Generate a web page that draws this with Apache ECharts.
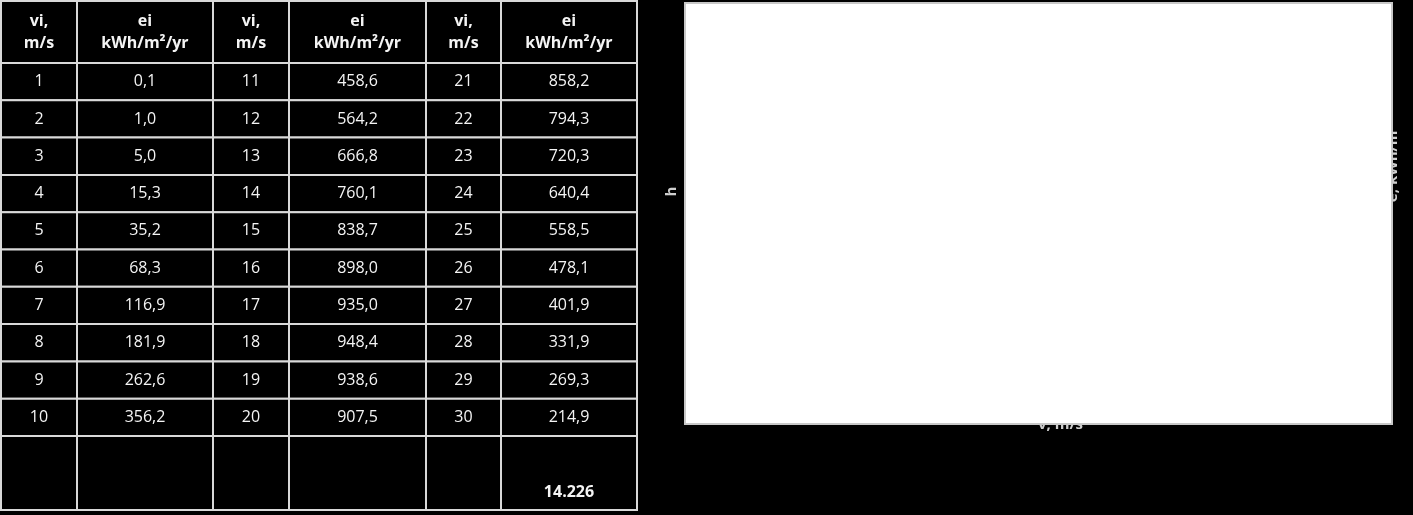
<!DOCTYPE html>
<html>
<head>
<meta charset="utf-8">
<title>Wind energy by speed bin</title>
<script src="https://cdn.jsdelivr.net/npm/echarts@6/dist/echarts.min.js"></script>
<style>
  html, body { margin: 0; padding: 0; background: #000; }
  #main { width: 1413px; height: 515px; }
</style>
</head>
<body>
<div id="main"></div>
<script>
// wind speed bins, m/s
const speeds = [1, 2, 3, 4, 5, 6, 7, 8, 9, 10,
                11, 12, 13, 14, 15, 16, 17, 18, 19, 20,
                21, 22, 23, 24, 25, 26, 27, 28, 29, 30];
// energy per bin, kWh/m2/yr
const energy = [0.1, 1.0, 5.0, 15.3, 35.2, 68.3, 116.9, 181.9, 262.6, 356.2,
                458.6, 564.2, 666.8, 760.1, 838.7, 898.0, 935.0, 948.4, 938.6, 907.5,
                858.2, 794.3, 720.3, 640.4, 558.5, 478.1, 401.9, 331.9, 269.3, 214.9];
const totalLabel = '14.226';
const headSpeed = 'vi,\nm/s';
const headEnergy = 'ei\nkWh/m²/yr';

// table layout, in table-axis units (= px)
const colEdges = [0, 76, 212, 288, 425, 500, 636];
const rowEdges = [0, 62, 99.3, 136.6, 173.9, 211.2, 248.5, 285.8, 323.1, 360.4, 397.7, 435, 509];

const fmt = v => v.toFixed(1).replace('.', ',');

// one entry per cell: col, row, text, kind
const cells = [];
for (let b = 0; b < 3; b++) {
  cells.push([b * 2, 0, headSpeed, 'head']);
  cells.push([b * 2 + 1, 0, headEnergy, 'head']);
  for (let i = 0; i < 10; i++) {
    const k = b * 10 + i;
    cells.push([b * 2, i + 1, String(speeds[k]), 'body']);
    cells.push([b * 2 + 1, i + 1, fmt(energy[k]), 'body']);
  }
  cells.push([b * 2, 11, '', 'foot']);
  cells.push([b * 2 + 1, 11, b === 2 ? totalLabel : '', 'foot']);
}

const chart = echarts.init(document.getElementById('main'));

function renderCell(params, api) {
  const cell = cells[params.dataIndex];
  const c = api.value(0), r = api.value(1);
  const p0 = api.coord([colEdges[c], rowEdges[r]]);
  const p1 = api.coord([colEdges[c + 1], rowEdges[r + 1]]);
  const kind = cell[3];
  const ty = kind === 'foot' ? p1[1] - 18 : (p0[1] + p1[1]) / 2;
  return {
    type: 'group',
    children: [
      {
        type: 'rect',
        shape: { x: p0[0], y: p0[1], width: p1[0] - p0[0], height: p1[1] - p0[1] },
        style: { fill: '#000', stroke: '#d9d9d9', lineWidth: 2 }
      },
      {
        type: 'text',
        z2: 10,
        style: {
          text: cell[2],
          x: (p0[0] + p1[0]) / 2,
          y: ty,
          align: 'center',
          verticalAlign: 'middle',
          fill: '#f4f4f4',
          fontFamily: 'Open Sans',
          fontSize: 16,
          fontWeight: kind === 'body' ? 'normal' : 'bold',
          lineHeight: 22
        }
      }
    ]
  };
}

const nameStyle = {
  color: '#cfcfcf',
  fontFamily: 'Open Sans',
  fontSize: 15,
  fontWeight: 'bold',
  verticalAlign: 'middle'
};

const option = {
  backgroundColor: '#000',
  animation: false,
  grid: [
    { left: 1, top: 1, width: 636, height: 509, show: false },
    {
      left: 685, top: 3, width: 707, height: 421,
      show: true, backgroundColor: '#fff',
      borderColor: '#c8c8c8', borderWidth: 2,
      z: 5
    }
  ],
  xAxis: [
    { gridIndex: 0, type: 'value', min: 0, max: 636, show: false },
    {
      gridIndex: 1, type: 'value', min: 0, max: 30, z: 1,
      name: 'v, m/s', nameLocation: 'middle', nameGap: 1,
      nameTextStyle: Object.assign({ padding: [0, 0, 0, 44] }, nameStyle),
      axisLine: { show: false }, axisTick: { show: false },
      axisLabel: { show: false }, splitLine: { show: false }
    }
  ],
  yAxis: [
    { gridIndex: 0, type: 'value', min: 0, max: 509, inverse: true, show: false },
    {
      gridIndex: 1, type: 'value', min: 0, max: 1000, z: 1,
      name: 'h', nameLocation: 'middle', nameRotate: 90, nameGap: 13,
      nameTextStyle: Object.assign({ padding: [0, 0, 0, 44] }, nameStyle),
      axisLine: { show: false }, axisTick: { show: false },
      axisLabel: { show: false }, splitLine: { show: false }
    },
    {
      gridIndex: 1, type: 'value', position: 'right', min: 0, max: 1000, z: 1,
      name: 'e, kWh/m²', nameLocation: 'middle', nameRotate: 90, nameGap: 1,
      nameTextStyle: Object.assign({ padding: [0, 0, 0, 100] }, nameStyle),
      axisLine: { show: false }, axisTick: { show: false },
      axisLabel: { show: false }, splitLine: { show: false }
    }
  ],
  series: [
    {
      type: 'custom',
      xAxisIndex: 0,
      yAxisIndex: 0,
      renderItem: renderCell,
      data: cells.map(c => [c[0], c[1]])
    }
  ]
};

chart.setOption(option);
</script>
</body>
</html>
